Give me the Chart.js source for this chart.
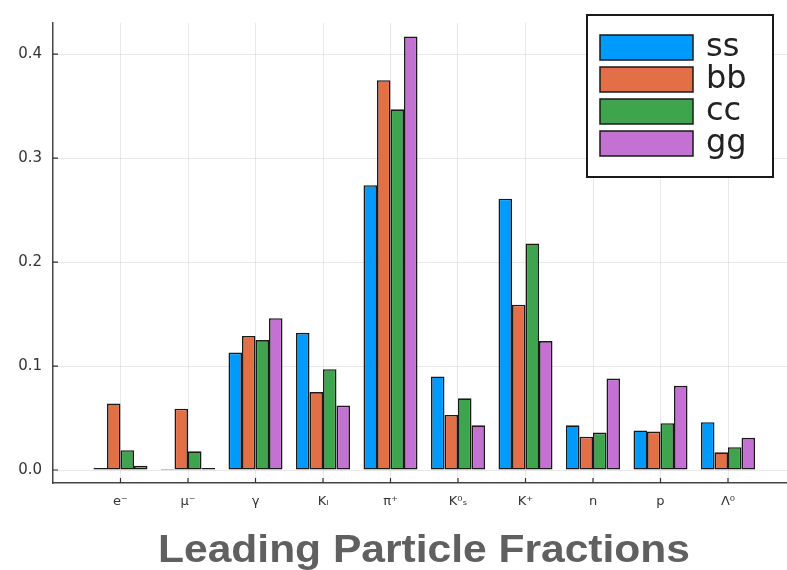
<!DOCTYPE html>
<html>
<head>
<meta charset="utf-8">
<script src="https://cdn.jsdelivr.net/npm/chart.js@4/dist/chart.umd.min.js"></script>
<style>
  html, body { margin: 0; padding: 0; background: #ffffff; overflow: hidden; }
  #wrap { width: 800px; height: 570px; }
</style>
</head>
<body>
<div id="wrap"><canvas id="c" width="800" height="570"></canvas></div>
<script>
// Particle species along the x axis
const categories = ['e⁻', 'μ⁻', 'γ', 'Kₗ', 'π⁺', 'K⁰ₛ', 'K⁺', 'n', 'p', 'Λ⁰'];

// Leading-particle fraction for each jet flavour
const ss = [0.002, 0.001, 0.113, 0.132, 0.274, 0.090, 0.261, 0.043, 0.038, 0.046];
const bb = [0.064, 0.059, 0.129, 0.075, 0.375, 0.053, 0.159, 0.032, 0.037, 0.017];
const cc = [0.019, 0.018, 0.125, 0.097, 0.347, 0.069, 0.218, 0.036, 0.045, 0.022];
const gg = [0.004, 0.002, 0.146, 0.062, 0.417, 0.043, 0.124, 0.088, 0.081, 0.031];

const seriesNames = ['ss', 'bb', 'cc', 'gg'];
const yTicks = [0.0, 0.1, 0.2, 0.3, 0.4];
const chartTitle = 'Leading Particle Fractions';

const colors = ['#009AFA', '#E36F47', '#3EA44E', '#C371D2'];
const seriesValues = [ss, bb, cc, gg];

const datasets = seriesValues.map((vals, s) => ({
  label: seriesNames[s],
  data: vals.map((v, i) => ({ x: i + 1, y: v })),
  backgroundColor: colors[s],
  borderColor: '#1a1a1a',
  borderWidth: 1.6,
  borderSkipped: false,
  categoryPercentage: 0.8,
  barPercentage: 1.0
}));

// Short tick marks drawn inward from both axes
const innerTicks = {
  id: 'innerTicks',
  afterDatasetsDraw(chart) {
    const { ctx, chartArea, scales } = chart;
    ctx.save();
    ctx.strokeStyle = '#333';
    ctx.lineWidth = 1.2;
    ctx.beginPath();
    categories.forEach((_, i) => {
      const px = scales.x.getPixelForValue(i + 1);
      ctx.moveTo(px, chartArea.bottom);
      ctx.lineTo(px, chartArea.bottom - 5);
    });
    yTicks.forEach(v => {
      const py = scales.y.getPixelForValue(v);
      ctx.moveTo(chartArea.left, py);
      ctx.lineTo(chartArea.left + 5, py);
    });
    ctx.stroke();
    ctx.restore();
  }
};

// Boxed legend in the upper right, one row per dataset
const boxLegend = {
  id: 'boxLegend',
  afterDraw(chart) {
    const { ctx } = chart;
    const x0 = 587, y0 = 15, w = 186, h = 162;
    ctx.save();
    ctx.fillStyle = '#ffffff';
    ctx.fillRect(x0, y0, w, h);
    ctx.strokeStyle = '#1a1a1a';
    ctx.lineWidth = 2;
    ctx.strokeRect(x0, y0, w, h);
    ctx.font = '32px "DejaVu Sans"';
    ctx.textBaseline = 'middle';
    chart.data.datasets.forEach((ds, i) => {
      const ry = 35 + i * 32;
      ctx.fillStyle = ds.backgroundColor;
      ctx.fillRect(600, ry, 93, 25);
      ctx.lineWidth = 1.5;
      ctx.strokeStyle = '#1a1a1a';
      ctx.strokeRect(600, ry, 93, 25);
      ctx.fillStyle = '#222';
      ctx.fillText(ds.label, 706, ry + 13);
    });
    ctx.restore();
  }
};

// Wide bold caption below the x axis
const wideTitle = {
  id: 'wideTitle',
  afterDraw(chart) {
    const { ctx } = chart;
    ctx.save();
    ctx.font = 'bold 38px "Liberation Sans"';
    ctx.fillStyle = '#606060';
    ctx.textBaseline = 'alphabetic';
    ctx.textAlign = 'center';
    const natural = ctx.measureText(chartTitle).width;
    const sx = 532 / natural;
    ctx.translate(424, 562);
    ctx.scale(sx, 1);
    ctx.fillText(chartTitle, 0, 0);
    ctx.restore();
  }
};

new Chart(document.getElementById('c'), {
  type: 'bar',
  data: { datasets },
  plugins: [innerTicks, boxLegend, wideTitle],
  options: {
    responsive: false,
    animation: false,
    layout: { padding: { top: 23, right: 4.5, left: 0, bottom: 0 } },
    plugins: {
      legend: { display: false },
      tooltip: { enabled: false }
    },
    scales: {
      x: {
        type: 'linear',
        min: 0,
        max: 11,
        offset: false,
        afterBuildTicks(scale) {
          scale.ticks = categories.map((_, i) => ({ value: i + 1 }));
        },
        afterFit(scale) { scale.height = 87; },
        ticks: {
          autoSkip: false,
          maxRotation: 0,
          padding: 11,
          color: '#333',
          font: { family: 'DejaVu Sans', size: 13 },
          callback: v => categories[v - 1] || ''
        },
        grid: { color: 'rgba(0,0,0,0.09)', lineWidth: 1, drawTicks: false, offset: false },
        border: { color: '#444', width: 1.5 }
      },
      y: {
        min: -0.0125,
        max: 0.43,
        afterBuildTicks(scale) {
          scale.ticks = yTicks.map(v => ({ value: v }));
        },
        afterFit(scale) { scale.width = 53; },
        ticks: {
          padding: 11,
          color: '#333',
          font: { family: 'DejaVu Sans', size: 15 },
          callback: v => Number(v).toFixed(1)
        },
        grid: { color: 'rgba(0,0,0,0.09)', lineWidth: 1, drawTicks: false },
        border: { color: '#444', width: 1.5 }
      }
    }
  }
});
</script>
</body>
</html>
